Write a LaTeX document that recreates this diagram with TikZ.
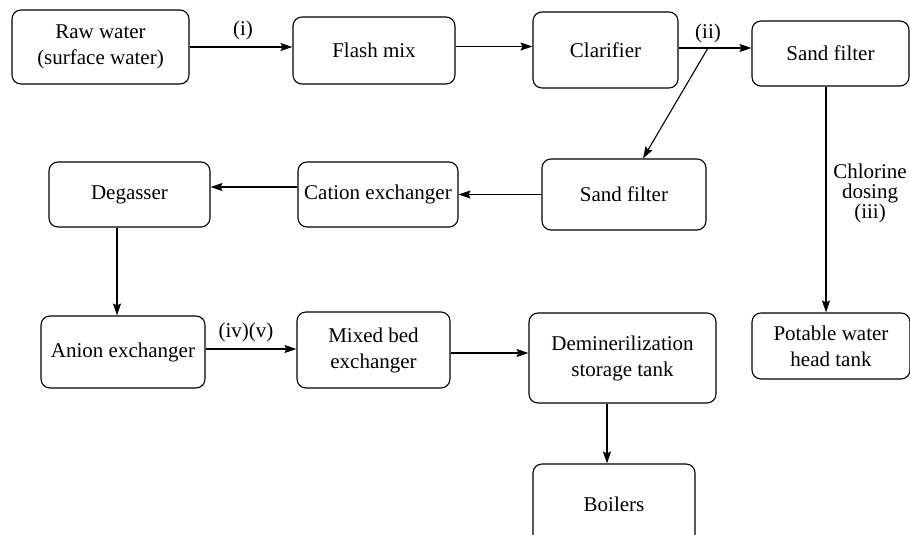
\documentclass[tikz,border=0pt]{standalone}
\usepackage{fontspec}
\setmainfont{LiberationSerif-Regular.ttf}
\usetikzlibrary{arrows.meta}
\begin{document}
\begin{tikzpicture}[x=1pt,y=1pt,
  box/.style={draw,rounded corners=9pt,line width=1.1pt,align=center,inner sep=0pt,
    font=\fontsize{21}{26}\selectfont},
  flow/.style={line width=1.1pt,-{Stealth[length=12pt,width=8pt,inset=2pt]}},
  lbl/.style={font=\fontsize{21}{21}\selectfont,align=center,inner sep=0pt}]
\clip (0,0) rectangle (910,-535);
\useasboundingbox (0,0) rectangle (910,-535);
\node[box,minimum width=177pt,minimum height=74pt] (raw) at (100.5,-47) {Raw water\\(surface water)};
\node[box,minimum width=162pt,minimum height=67pt] (flash) at (374,-50.5) {Flash mix};
\node[box,minimum width=145pt,minimum height=76pt] (clar) at (605.5,-50) {Clarifier};
\node[box,minimum width=157pt,minimum height=65pt] (sand1) at (830.5,-53.5) {Sand filter};
\node[box,minimum width=164pt,minimum height=71pt] (sand2) at (624,-194.5) {Sand filter};
\node[box,minimum width=160pt,minimum height=65pt] (cation) at (378,-194.5) {Cation exchanger};
\node[box,minimum width=161pt,minimum height=65pt] (degas) at (129.5,-194.5) {Degasser};
\node[box,minimum width=164pt,minimum height=72pt] (anion) at (123,-352) {Anion exchanger};
\node[box,minimum width=153pt,minimum height=76pt] (mixed) at (373.5,-350) {Mixed bed\\exchanger};
\node[box,minimum width=187pt,minimum height=90pt] (demin) at (622.5,-358) {Deminerilization\\storage tank};
\node[box,minimum width=162pt,minimum height=80pt] (boil) at (614,-504) {Boilers};
\node[box,minimum width=158pt,minimum height=66pt] (pot) at (831,-346) {Potable water\\head tank};
\coordinate (br) at (708,-48);
\draw[flow] (raw.east) -- (raw.east -| flash.west);
\draw[flow] ([yshift=4pt]flash.east) -- ([yshift=4pt]flash.east -| clar.west);
\draw[flow] ([yshift=2pt]clar.east) -- ([yshift=2pt]clar.east -| sand1.west);
\draw[flow] (br) -- ([xshift=19pt]sand2.north);
\draw[flow] (sand2.west) -- (sand2.west -| cation.east);
\draw[flow] ([yshift=7.5pt]cation.west) -- ([yshift=7.5pt]cation.west -| degas.east);
\draw[flow] ([xshift=-12.5pt]degas.south) -- ([xshift=-12.5pt]degas.south |- anion.north);
\draw[flow] ([yshift=3pt]anion.east) -- ([yshift=3pt]anion.east -| mixed.west);
\draw[flow] ([yshift=-3pt]mixed.east) -- ([yshift=-3pt]mixed.east -| demin.west);
\draw[flow] ([xshift=-15.5pt]demin.south) -- ([xshift=-15.5pt]demin.south |- boil.north);
\draw[flow] ([xshift=-4.5pt]sand1.south) -- ([xshift=-4.5pt]sand1.south |- pot.north);
\node[lbl] (l1) at (243,-30) {(i)};
\node[lbl] (l2) at (708,-33) {(ii)};
\node[lbl] (l3) at (246,-332) {(iv)(v)};
\node[lbl,font=\fontsize{21}{20}\selectfont] (l4) at (870,-193) {Chlorine\\dosing\\(iii)};
\end{tikzpicture}
\end{document}
